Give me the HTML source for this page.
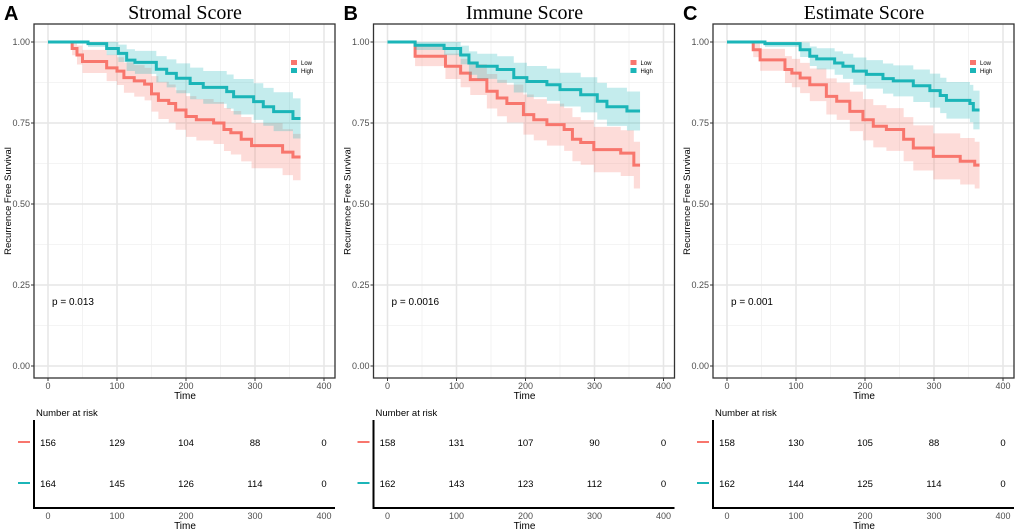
<!DOCTYPE html>
<html><head><meta charset="utf-8"><style>
html,body{margin:0;padding:0;background:#fff;width:1020px;height:532px;overflow:hidden}
svg{display:block}
text{font-family:"Liberation Sans",Arial,sans-serif}
</style></head><body>
<svg id="fig" width="1020" height="532" viewBox="0 0 1020 532" xmlns="http://www.w3.org/2000/svg"></svg>
<script>
// ---- data ----
const panelTitles = ["Stromal Score","Immune Score","Estimate Score"];
const panelLetters = ["A","B","C"];
const pValues = ["p = 0.013","p = 0.0016","p = 0.001"];
const xTicks = [0,100,200,300,400];
const yTicks = [0,0.25,0.5,0.75,1];
const yTickLabels = ["0.00","0.25","0.50","0.75","1.00"];
const riskTimes = [0,100,200,300,400];
const nLowA = 156, nHighA = 164, nLowB = 158, nHighB = 162, nLowC = 158, nHighC = 162;
const riskLowA = [156,129,104,88,0];
const riskHighA = [164,145,126,114,0];
const riskLowB = [158,131,107,90,0];
const riskHighB = [162,143,123,112,0];
const riskLowC = [158,130,105,88,0];
const riskHighC = [162,144,125,114,0];
const endTime = 366;
const lowTimesA = [0,35,42,50,85,100,110,125,140,150,160,175,185,200,215,240,255,265,280,295,340,355];
const lowSurvA  = [1,0.98,0.96,0.94,0.92,0.91,0.89,0.88,0.87,0.84,0.82,0.81,0.79,0.77,0.76,0.75,0.73,0.72,0.70,0.68,0.66,0.645];
const highTimesA = [0,58,85,102,114,126,157,172,186,206,225,259,269,298,312,327,355];
const highSurvA  = [1,0.995,0.98,0.965,0.944,0.937,0.916,0.903,0.888,0.872,0.86,0.847,0.831,0.816,0.80,0.785,0.764];
const lowTimesB = [0,40,84,106,120,144,159,173,197,212,231,256,268,280,299,338,357];
const lowSurvB  = [1,0.956,0.925,0.904,0.884,0.848,0.827,0.81,0.776,0.76,0.745,0.73,0.70,0.69,0.668,0.657,0.62];
const highTimesB = [0,40,82,106,118,130,159,183,202,231,250,280,304,318,347];
const highSurvB  = [1,0.99,0.98,0.96,0.935,0.925,0.915,0.89,0.878,0.868,0.853,0.837,0.817,0.80,0.787];
const lowTimesC = [0,38,48,84,94,106,120,144,159,178,197,212,231,256,270,299,338,359];
const lowSurvC  = [1,0.976,0.945,0.915,0.904,0.889,0.868,0.832,0.817,0.786,0.76,0.74,0.73,0.70,0.673,0.647,0.632,0.62];
const highTimesC = [0,55,106,120,130,156,168,183,202,226,241,270,294,309,318,352,357];
const highSurvC  = [1,0.995,0.976,0.956,0.948,0.935,0.925,0.91,0.9,0.887,0.88,0.865,0.85,0.835,0.82,0.81,0.79];

const panels = [
 {low:[lowTimesA,lowSurvA,nLowA],high:[highTimesA,highSurvA,nHighA],rl:riskLowA,rh:riskHighA},
 {low:[lowTimesB,lowSurvB,nLowB],high:[highTimesB,highSurvB,nHighB],rl:riskLowB,rh:riskHighB},
 {low:[lowTimesC,lowSurvC,nLowC],high:[highTimesC,highSurvC,nHighC],rl:riskLowC,rh:riskHighC}
];
const RED="#F8766D", TEAL="#1BB5B8";
const NS="http://www.w3.org/2000/svg";
const svg=document.getElementById('fig');
function mk(tag,attrs,parent,txt){const e=document.createElementNS(NS,tag);for(const k in attrs)e.setAttribute(k,attrs[k]);if(txt!==undefined)e.textContent=txt;(parent||svg).appendChild(e);return e;}

panels.forEach((p,i)=>{
  const ox=i*339.5;
  const g=mk('g',{transform:`translate(${ox},0)`});
  
  
  const x=t=>48+t*0.69, y=s=>366-s*324;
  const L=34,R=335,T=24,B=378;
  let e=mk('text',{x:4,y:20,'font-size':20,'font-weight':'bold',fill:'#000'},g,panelLetters[i]);
  
  e=mk('text',{x:185,y:19,'font-size':20,'text-anchor':'middle',style:'font-family:"Liberation Serif",serif',fill:'#000'},g,panelTitles[i]);
  
  // grid
  [50,150,250,350].forEach(t=>mk('line',{x1:x(t),x2:x(t),y1:T,y2:B,stroke:'#f0f0f0','stroke-width':0.8},g));
  [0.125,0.375,0.625,0.875].forEach(s=>mk('line',{x1:L,x2:R,y1:y(s),y2:y(s),stroke:'#f0f0f0','stroke-width':0.8},g));
  xTicks.forEach(t=>mk('line',{x1:x(t),x2:x(t),y1:T,y2:B,stroke:'#e6e6e6','stroke-width':1.5},g));
  yTicks.forEach(s=>mk('line',{x1:L,x2:R,y1:y(s),y2:y(s),stroke:'#e6e6e6','stroke-width':1.5},g));
  // curves
  [[p.low,RED,'low'],[p.high,TEAL,'high']].forEach(([d,col,nm])=>{
    const [ts,ss,n]=d;
    let up='',lo='',line='';
    for(let k=0;k<ts.length;k++){
      const s=ss[k], hw=1.96*Math.sqrt(s*(1-s)/(n*1.1));
      const t0=ts[k], t1=k+1<ts.length?ts[k+1]:endTime;
      up+=`${x(t0)},${y(Math.min(1,s+hw))} ${x(t1)},${y(Math.min(1,s+hw))} `;
      lo=`${x(t1)},${y(s-hw)} ${x(t0)},${y(s-hw)} `+lo;
      line+=`${k?'L':'M'}${x(t0)},${y(s)} L${x(t1)},${y(s)} `;
    }
    const band=mk('polygon',{points:up+lo,fill:col,'fill-opacity':0.26},g);
    
    const pl=mk('path',{d:line,fill:'none',stroke:col,'stroke-width':3},g);
    
  });
  // border
  e=mk('rect',{x:L,y:T,width:R-L,height:B-T,fill:'none',stroke:'#333','stroke-width':1.3},g);
  
  yTicks.forEach((s,k)=>{mk('line',{x1:L-3,x2:L,y1:y(s),y2:y(s),stroke:'#333'},g);
    const tl=mk('text',{x:L-4,y:y(s)+3,'font-size':9,'text-anchor':'end',fill:'#4d4d4d'},g,yTickLabels[k]);
    });
  xTicks.forEach(t=>{mk('line',{x1:x(t),x2:x(t),y1:B,y2:B+3,stroke:'#333'},g);
    const tl=mk('text',{x:x(t),y:389,'font-size':9,'text-anchor':'middle',fill:'#4d4d4d'},g,t);
    });
  e=mk('text',{x:185,y:399,'font-size':10,'text-anchor':'middle',fill:'#000'},g,'Time');
  
  e=mk('text',{x:0,y:0,'font-size':9.5,'text-anchor':'middle',fill:'#000',transform:'translate(11,201) rotate(-90)'},g,'Recurrence Free Survival');
  
  e=mk('text',{x:52,y:305,'font-size':10,fill:'#000'},g,pValues[i]);
  
  // legend
  [['Low',RED,64],['High',TEAL,72]].forEach(([lab,col,yy])=>{
    const k=mk('rect',{x:291,y:yy-4,width:6,height:5,fill:col},g);
    
    const tt=mk('text',{x:301,y:yy+1,'font-size':6,fill:'#000'},g,lab);
    
  });
  // risk table
  e=mk('text',{x:36,y:416,'font-size':9.5,fill:'#000'},g,'Number at risk');
  
  mk('line',{x1:34,x2:34,y1:420,y2:509,stroke:'#000','stroke-width':2},g);
  mk('line',{x1:33,x2:335,y1:508,y2:508,stroke:'#000','stroke-width':2},g);
  [[p.rl,RED,444,'low'],[p.rh,TEAL,485,'high']].forEach(([vals,col,yy,nm])=>{
    const d=mk('line',{x1:18,x2:30,y1:yy-2,y2:yy-2,stroke:col,'stroke-width':2},g);
    
    vals.forEach((v,k)=>{const tt=mk('text',{x:x(riskTimes[k]),y:yy+2,'font-size':9.5,'text-anchor':'middle',fill:'#000'},g,v);
      });
  });
  xTicks.forEach(t=>{const tl=mk('text',{x:x(t),y:519,'font-size':9,'text-anchor':'middle',fill:'#4d4d4d'},g,t);
    });
  e=mk('text',{x:185,y:529,'font-size':10,'text-anchor':'middle',fill:'#000'},g,'Time');
  
});
</script>
</body></html>
